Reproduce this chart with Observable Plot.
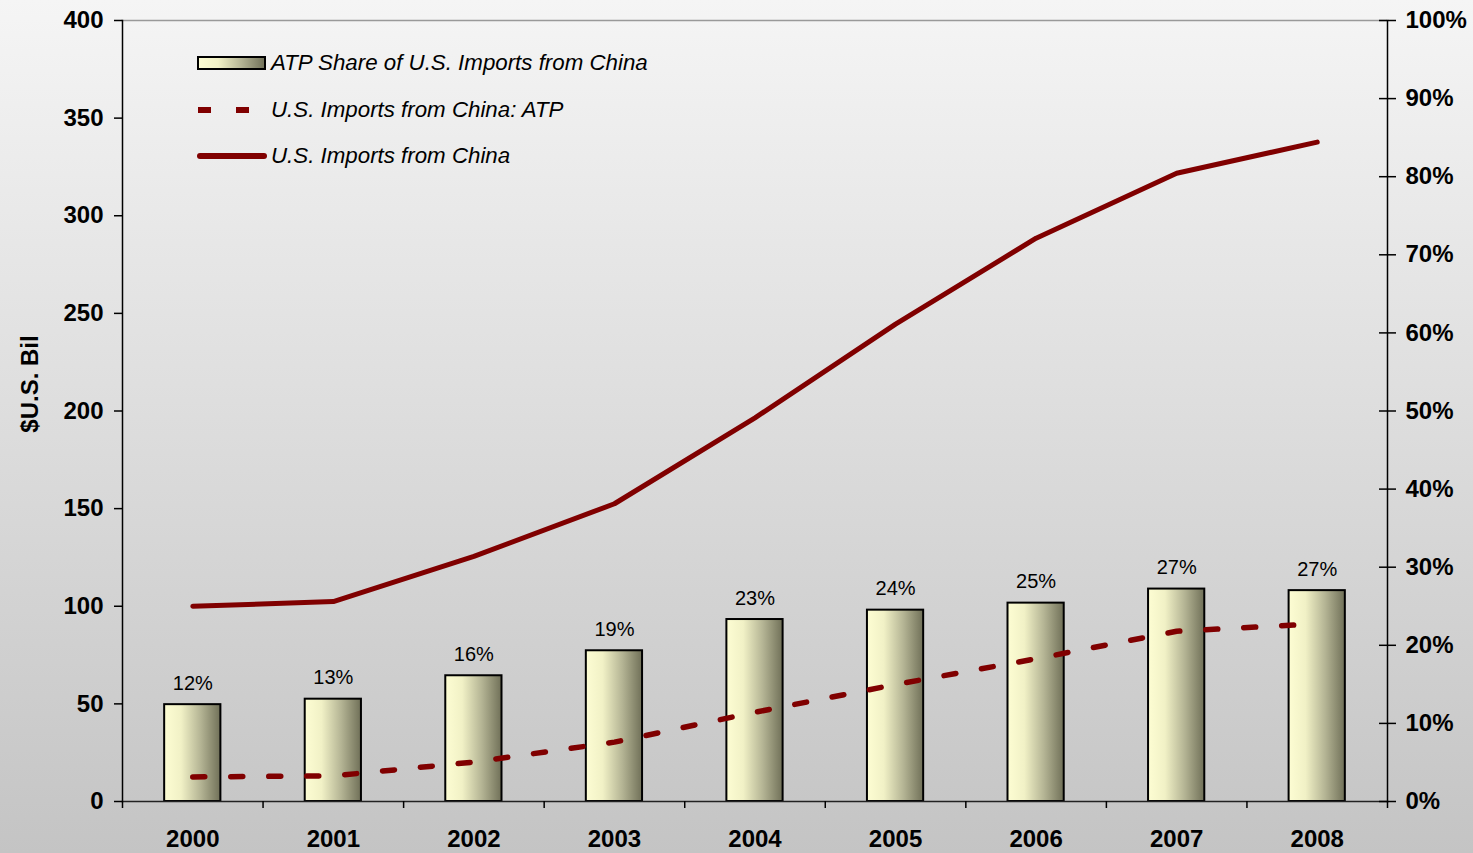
<!DOCTYPE html>
<html>
<head>
<meta charset="utf-8">
<script src="https://cdn.jsdelivr.net/npm/d3@7"></script>
<script src="https://cdn.jsdelivr.net/npm/@observablehq/plot@0.6"></script>
<style>
  html, body { margin: 0; padding: 0; }
  #wrap { position: relative; width: 1473px; height: 853px; background: linear-gradient(#f5f5f5, #c4c4c4); overflow: hidden; }
  #legend { position: absolute; left: 196px; top: 40px; font: italic 22.3px "Liberation Sans", Arial, sans-serif; color: #000; }
  #legend .row { display: flex; align-items: center; height: 46.5px; }
  #legend svg { width: 73px; height: 20px; margin-right: 2px; }
</style>
</head>
<body>
<div id="wrap">
  <div id="chart"></div>
  <div id="legend"></div>
</div>
<script>
// ---- data ----
const years = ["2000", "2001", "2002", "2003", "2004", "2005", "2006", "2007", "2008"];
const atpShare = [12.4, 13.1, 16.1, 19.3, 23.3, 24.5, 25.4, 27.2, 27.0];          // % (right axis)
const shareLabels = ["12%", "13%", "16%", "19%", "23%", "24%", "25%", "27%", "27%"];
const importsTotal = [100.0, 102.4, 125.5, 152.5, 196.5, 244.5, 288.5, 321.8, 337.7]; // $ bil
const importsATP = [12.6, 13.1, 20.2, 30.4, 45.7, 59.9, 73.1, 87.2, 91.0];           // $ bil
const leftTicks = [0, 50, 100, 150, 200, 250, 300, 350, 400];
const rightTicks = [0, 10, 20, 30, 40, 50, 60, 70, 80, 90, 100];
const yTitle = "$U.S. Bil";
const legendItems = [
  { label: "ATP Share of U.S. Imports from China", kind: "bar" },
  { label: "U.S. Imports from China: ATP", kind: "dash" },
  { label: "U.S. Imports from China", kind: "solid" }
];

// ---- layout / style ----
const W = 1473, H = 853, mL = 122, mR = 86, mT = 20, mB = 52;
const band = (W - mL - mR) / years.length;
const pctToBil = 400 / 100; // right axis 100% == left axis 400
const red = "#800000";
const font = "'Liberation Sans', Arial, sans-serif";

const rows = years.map((y, i) => ({
  year: y, share: atpShare[i], label: shareLabels[i], total: importsTotal[i], atp: importsATP[i]
}));

const chart = Plot.plot({
  width: W, height: H,
  marginLeft: mL, marginRight: mR, marginTop: mT, marginBottom: mB,
  style: { background: "transparent", fontFamily: font, overflow: "visible", color: "#000" },
  x: { type: "band", domain: years, paddingInner: 0.6, paddingOuter: 0.3, align: 0.5, round: false },
  y: { domain: [0, 400] },
  marks: [
    Plot.barY(rows, { x: "year", y: d => d.share * pctToBil, fill: "url(#barGrad)", stroke: "#000", strokeWidth: 2 }),
    Plot.text(rows, { x: "year", y: d => d.share * pctToBil, text: "label", dy: -15, lineAnchor: "bottom", fontSize: 20, fill: "#000" }),
    Plot.line(rows, { x: "year", y: "atp", stroke: red, strokeWidth: 5.5, strokeDasharray: "12,26" }),
    Plot.line(rows, { x: "year", y: "total", stroke: red, strokeWidth: 5, strokeLinecap: "round" }),
    // frame lines
    Plot.frame({ anchor: "top", stroke: "#999", strokeWidth: 1.5 }),
    Plot.frame({ anchor: "left", stroke: "#000", strokeWidth: 1.5 }),
    Plot.frame({ anchor: "right", stroke: "#000", strokeWidth: 1.5 }),
    Plot.frame({ anchor: "bottom", stroke: "#222", strokeWidth: 1.5 }),
    // left axis
    Plot.axisY({ anchor: "left", ticks: leftTicks, tickSize: 8, tickPadding: 11, fontSize: 24, fontWeight: "bold", label: null, tickFormat: d => String(d), strokeWidth: 1.5 }),
    // right axis (outer ticks + labels)
    Plot.axisY({ anchor: "right", ticks: rightTicks.map(v => v * pctToBil), tickSize: 8, tickPadding: 10, fontSize: 24, fontWeight: "bold", label: null, tickFormat: d => `${d / pctToBil}%`, strokeWidth: 1.5 }),
    // right axis inner ticks
    Plot.axisY({ anchor: "left", ticks: rightTicks.map(v => v * pctToBil), tickSize: 8, tickFormat: () => "", label: null, dx: W - mL - mR, strokeWidth: 1.5 }),
    // x labels
    Plot.axisX({ ticks: years, tickSize: 0, tickPadding: 28, fontSize: 24, fontWeight: "bold", label: null }),
    // x boundary ticks
    Plot.axisX({ ticks: years, tickSize: 7, tickFormat: () => "", label: null, dx: -band / 2, strokeWidth: 1.5 }),
    Plot.axisX({ ticks: [years[years.length - 1]], tickSize: 7, tickFormat: () => "", label: null, dx: band / 2, strokeWidth: 1.5 }),
    // y title
    Plot.text([yTitle], { frameAnchor: "left", textAnchor: "middle", text: d => d, rotate: -90, dx: -92, dy: -27, fontSize: 24, fontWeight: "bold", fill: "#000" })
  ]
});

// gradient defs
const svgns = "http://www.w3.org/2000/svg";
function addGrad(svg, id) {
  const defs = document.createElementNS(svgns, "defs");
  defs.innerHTML = `<linearGradient id="${id}" x1="0" x2="1" y1="0" y2="0">
    <stop offset="0" stop-color="#fdfdd3"/>
    <stop offset="0.3" stop-color="#f1f1c6"/>
    <stop offset="0.65" stop-color="#b4b494"/>
    <stop offset="1" stop-color="#707058"/>
  </linearGradient>`;
  svg.insertBefore(defs, svg.firstChild);
}
addGrad(chart, "barGrad");
document.getElementById("chart").appendChild(chart);

// legend
const leg = d3.select("#legend");
legendItems.forEach(item => {
  const row = leg.append("div").attr("class", "row");
  const s = row.append("svg").attr("viewBox", "0 0 73 20");
  if (item.kind === "bar") {
    s.append("rect").attr("x", 2).attr("y", 4).attr("width", 67).attr("height", 12)
      .attr("fill", "url(#barGrad)").attr("stroke", "#000").attr("stroke-width", 2);
  } else if (item.kind === "dash") {
    s.append("line").attr("x1", 2).attr("x2", 55).attr("y1", 10).attr("y2", 10)
      .attr("stroke", red).attr("stroke-width", 6).attr("stroke-dasharray", "13,25");
  } else {
    s.append("line").attr("x1", 4).attr("x2", 68).attr("y1", 10).attr("y2", 10)
      .attr("stroke", red).attr("stroke-width", 6).attr("stroke-linecap", "round");
  }
  row.append("span").text(item.label);
});
</script>
</body>
</html>
